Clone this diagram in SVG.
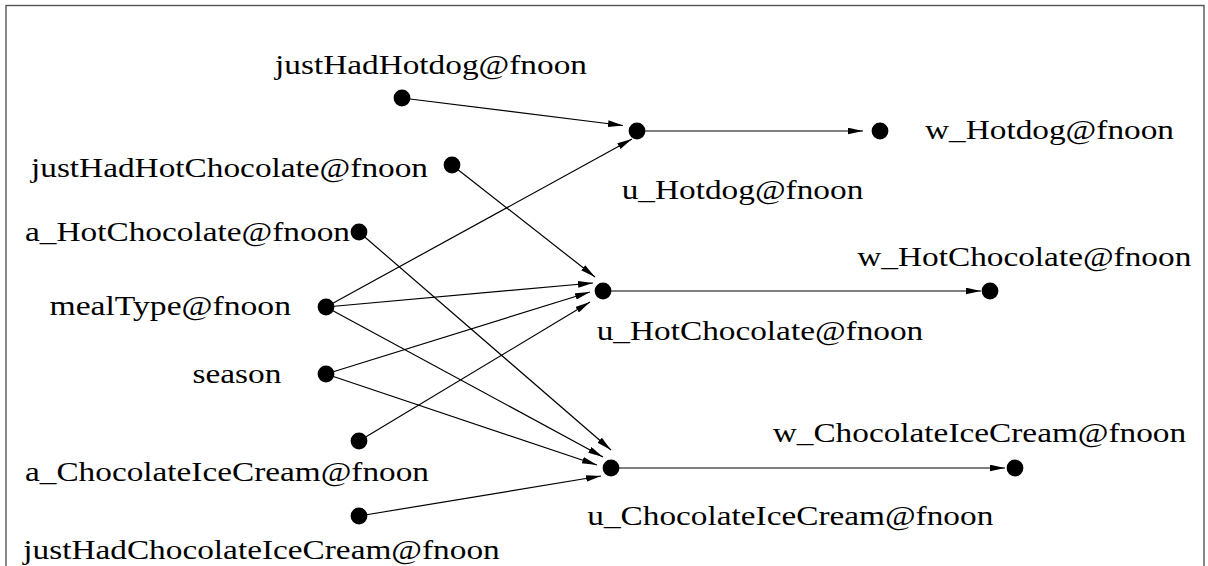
<svg xmlns="http://www.w3.org/2000/svg" width="1208" height="566" viewBox="0 0 1208 566">
<style>
  .lbl { font-family: "Liberation Serif", "Times New Roman", serif; font-size: 28px; fill: #000; }
  .dot { fill: #000; }
  .edge { stroke: #000; stroke-width: 1.2; fill: none; marker-end: url(#arr); }
</style>
<defs>
  <marker id="arr" markerUnits="userSpaceOnUse" markerWidth="16" markerHeight="8" refX="15" refY="3.3" orient="auto">
    <path d="M0,0 L15,3.3 L0,6.6 z" fill="#000"/>
  </marker>
</defs>
<rect x="0" y="0" width="1208" height="566" fill="#fff"/>
<rect x="6" y="5.5" width="1198" height="600" fill="none" stroke="#555" stroke-width="1.4"/>
<g id="connectors">
  <line class="edge" x1="402" y1="98" x2="623" y2="125.5"/>
  <line class="edge" x1="326" y1="307" x2="632" y2="139"/>
  <line class="edge" x1="637" y1="131" x2="863" y2="131"/>
  <line class="edge" x1="452" y1="165" x2="595" y2="277"/>
  <line class="edge" x1="326" y1="307" x2="593" y2="283"/>
  <line class="edge" x1="326" y1="374" x2="590" y2="292"/>
  <line class="edge" x1="359" y1="441" x2="590" y2="302"/>
  <line class="edge" x1="603" y1="291" x2="981" y2="291"/>
  <line class="edge" x1="359" y1="232" x2="611" y2="450"/>
  <line class="edge" x1="326" y1="307" x2="603" y2="457"/>
  <line class="edge" x1="326" y1="374" x2="597" y2="465"/>
  <line class="edge" x1="359" y1="516" x2="601" y2="476"/>
  <line class="edge" x1="611" y1="468" x2="1005" y2="468"/>
</g>
<g id="justHadHotdog">
  <circle class="dot" cx="402" cy="98" r="8.4"/>
  <text class="lbl" x="275" y="73.5" textLength="312" lengthAdjust="spacingAndGlyphs">justHadHotdog@fnoon</text>
</g>
<g id="justHadHotChocolate">
  <circle class="dot" cx="452" cy="165" r="8.4"/>
  <text class="lbl" x="31" y="176.5" textLength="397" lengthAdjust="spacingAndGlyphs">justHadHotChocolate@fnoon</text>
</g>
<g id="a_HotChocolate">
  <circle class="dot" cx="359" cy="232" r="8.4"/>
  <text class="lbl" x="25" y="241" textLength="325" lengthAdjust="spacingAndGlyphs">a_HotChocolate@fnoon</text>
</g>
<g id="mealType">
  <circle class="dot" cx="326" cy="307" r="8.4"/>
  <text class="lbl" x="49.5" y="315" textLength="241.5" lengthAdjust="spacingAndGlyphs">mealType@fnoon</text>
</g>
<g id="season">
  <circle class="dot" cx="326" cy="374" r="8.4"/>
  <text class="lbl" x="192.5" y="382.5" textLength="89" lengthAdjust="spacingAndGlyphs">season</text>
</g>
<g id="a_ChocolateIceCream">
  <circle class="dot" cx="359" cy="441" r="8.4"/>
  <text class="lbl" x="25" y="481" textLength="404" lengthAdjust="spacingAndGlyphs">a_ChocolateIceCream@fnoon</text>
</g>
<g id="justHadChocolateIceCream">
  <circle class="dot" cx="359" cy="516" r="8.4"/>
  <text class="lbl" x="23.3" y="559" textLength="476.4" lengthAdjust="spacingAndGlyphs">justHadChocolateIceCream@fnoon</text>
</g>
<g id="u_Hotdog">
  <circle class="dot" cx="637" cy="131" r="8.4"/>
  <text class="lbl" x="621.7" y="199.3" textLength="241.6" lengthAdjust="spacingAndGlyphs">u_Hotdog@fnoon</text>
</g>
<g id="w_Hotdog">
  <circle class="dot" cx="880" cy="131" r="8.4"/>
  <text class="lbl" x="925" y="139.3" textLength="249" lengthAdjust="spacingAndGlyphs">w_Hotdog@fnoon</text>
</g>
<g id="u_HotChocolate">
  <circle class="dot" cx="603" cy="291" r="8.4"/>
  <text class="lbl" x="596.7" y="340" textLength="326.6" lengthAdjust="spacingAndGlyphs">u_HotChocolate@fnoon</text>
</g>
<g id="w_HotChocolate">
  <circle class="dot" cx="990" cy="291" r="8.4"/>
  <text class="lbl" x="857.3" y="265.7" textLength="334" lengthAdjust="spacingAndGlyphs">w_HotChocolate@fnoon</text>
</g>
<g id="u_ChocolateIceCream">
  <circle class="dot" cx="611" cy="468" r="8.4"/>
  <text class="lbl" x="587.3" y="525" textLength="406" lengthAdjust="spacingAndGlyphs">u_ChocolateIceCream@fnoon</text>
</g>
<g id="w_ChocolateIceCream">
  <circle class="dot" cx="1015" cy="468" r="8.4"/>
  <text class="lbl" x="772.7" y="441.7" textLength="413.5" lengthAdjust="spacingAndGlyphs">w_ChocolateIceCream@fnoon</text>
</g>
</svg>
